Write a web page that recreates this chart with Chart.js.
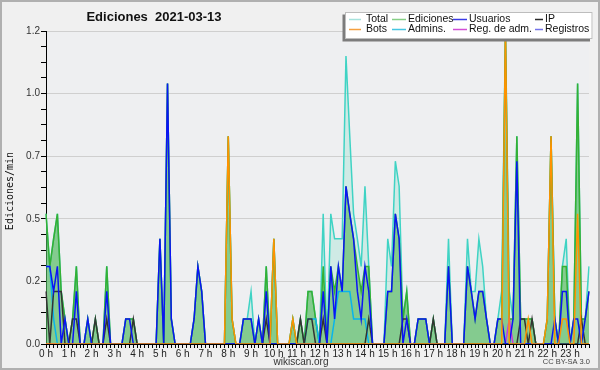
<!DOCTYPE html>
<html lang="es">
<head>
<meta charset="UTF-8" />
<title>Ediciones 2021-03-13</title>
<style>
  html, body { margin: 0; padding: 0; background: #f0f0f0; }
  canvas { display: block; }
</style>
</head>
<body>
<canvas id="editsChart" width="600" height="370"></canvas>
<script src="https://cdn.jsdelivr.net/npm/chart.js@4.4.0/dist/chart.umd.min.js"></script>
<script>
  // one value per 10 minute bin, 00:00 .. 23:50, in actions per minute
  const totalValues = [
    0.52,0.31,0.42,0.52,0.21,0.1,  0,0.1,0.31,0,0,0.1,  0,0.1,0,0,0.31,0,  0,0,0,0.1,0.1,0.1,
    0,0,0,0,0,0,  0.42,0,1.04,0.1,0,0,  0,0,0,0.1,0.31,0.21,  0,0,0,0,0,0,
    0.83,0.1,0,0,0.1,0.1,  0.21,0,0.1,0,0.31,0,  0.42,0,0,0,0,0.1,  0,0.1,0,0.21,0.21,0.1,
    0,0.52,0,0.52,0.42,0.42,  0.42,1.15,0.83,0.52,0.42,0.31,  0.63,0.31,0,0,0,0,  0.42,0.31,0.73,0.63,0.1,0.21,
    0,0,0.1,0.1,0.1,0,  0.1,0,0,0,0.42,0,  0,0,0,0.42,0.21,0.21,  0.42,0.31,0.1,0,0,0.1,
    0.21,1.25,0.21,0.1,0.83,0.1,  0.1,0.1,0.1,0,0,0,  0.1,0.83,0.1,0,0.31,0.42,  0,0.1,1.04,0.1,0.1,0.31
  ];
  const editValues = [
    0.52,0.31,0.42,0.52,0.21,0.1,  0,0.1,0.31,0,0,0.1,  0,0.1,0,0,0.31,0,  0,0,0,0.1,0.1,0.1,
    0,0,0,0,0,0,  0.42,0,1.04,0.1,0,0,  0,0,0,0.1,0.31,0.21,  0,0,0,0,0,0,
    0.83,0.1,0,0,0.1,0.1,  0.1,0,0.1,0,0.31,0,  0.42,0,0,0,0,0.1,  0,0.1,0,0.21,0.21,0.1,
    0,0.31,0,0.31,0.21,0.31,  0.21,0.63,0.52,0.42,0.31,0.21,  0.31,0.31,0,0,0,0,  0.21,0.21,0.52,0.42,0.1,0.21,
    0,0,0.1,0.1,0.1,0,  0.1,0,0,0,0.31,0,  0,0,0,0.31,0.21,0.1,  0.21,0.21,0.1,0,0,0.1,
    0.1,1.25,0.1,0.1,0.83,0.1,  0.1,0.1,0.1,0,0,0,  0.1,0.83,0.1,0,0.31,0.31,  0,0.1,1.04,0.1,0.1,0.21
  ];
  const userValues = [
    0.31,0.31,0.21,0.31,0,0.1,  0,0,0.21,0,0,0.1,  0,0,0,0,0.21,0,  0,0,0,0.1,0.1,0,
    0,0,0,0,0,0,  0.42,0,1.04,0.1,0,0,  0,0,0,0.1,0.31,0.21,  0,0,0,0,0,0,
    0,0,0,0,0.1,0.1,  0.1,0,0.1,0,0.21,0,  0,0,0,0,0,0,  0,0,0,0,0,0,
    0,0.21,0,0.31,0.1,0.31,  0.21,0.63,0.52,0.42,0.21,0.1,  0.31,0.21,0,0,0,0,  0.21,0.21,0.52,0.42,0,0.1,
    0,0,0.1,0.1,0.1,0,  0,0,0,0,0.31,0,  0,0,0,0.31,0.21,0.1,  0.21,0.21,0.1,0,0,0.1,
    0.1,0,0,0.1,0.73,0,  0,0,0,0,0,0,  0,0,0.1,0,0.21,0.21,  0,0.1,0.1,0,0.1,0.21
  ];
  const ipValues = [
    0.21,0,0.21,0.21,0.21,0,  0,0.1,0.1,0,0,0,  0,0.1,0,0,0.1,0,  0,0,0,0,0,0.1,
    0,0,0,0,0,0,  0,0,0,0,0,0,  0,0,0,0,0,0,  0,0,0,0,0,0,
    0,0,0,0,0,0,  0,0,0,0,0.1,0,  0,0,0,0,0,0,  0,0.1,0,0.1,0.1,0,
    0,0.1,0,0,0,0,  0,0,0,0,0,0,  0,0.1,0,0,0,0,  0,0,0,0,0.1,0.1,
    0,0,0,0,0,0,  0.1,0,0,0,0,0,  0,0,0,0,0,0,  0,0,0,0,0,0,
    0,0,0,0,0,0.1,  0.1,0,0.1,0,0,0,  0,0,0,0,0,0,  0,0,0,0.1,0,0
  ];
  const botValues = [
    0,0,0,0,0,0,  0,0,0,0,0,0,  0,0,0,0,0,0,  0,0,0,0,0,0,
    0,0,0,0,0,0,  0,0,0,0,0,0,  0,0,0,0,0,0,  0,0,0,0,0,0,
    0.83,0.1,0,0,0,0,  0,0,0,0,0,0,  0.42,0,0,0,0,0.1,  0,0,0,0,0,0,
    0,0,0,0,0,0,  0,0,0,0,0,0,  0,0,0,0,0,0,  0,0,0,0,0,0,
    0,0,0,0,0,0,  0,0,0,0,0,0,  0,0,0,0,0,0,  0,0,0,0,0,0,
    0,1.25,0,0,0,0,  0,0.1,0,0,0,0,  0.1,0.83,0,0,0.1,0.1,  0,0,0.52,0,0,0
  ];
  const adminValues = [
    0.31,0.31,0.1,0,0,0,  0,0,0,0,0,0,  0,0,0,0,0,0,  0,0,0,0,0,0,
    0,0,0,0,0,0,  0,0,0,0,0,0,  0,0,0,0,0,0,  0,0,0,0,0,0,
    0,0,0,0,0,0,  0,0,0,0,0,0,  0,0,0,0,0,0,  0,0,0,0.1,0.1,0.1,
    0,0,0,0,0.1,0.21,  0.21,0.21,0.21,0.1,0.1,0.1,  0.1,0,0,0,0,0,  0,0,0,0,0,0,
    0,0,0,0,0,0,  0,0,0,0,0,0,  0,0,0,0,0,0,  0,0,0,0,0,0,
    0,0,0,0,0,0,  0,0,0,0,0,0,  0,0,0,0,0,0,  0,0,0,0,0,0
  ];
  const adminLogValues = [
    0,0,0,0,0,0,  0,0,0,0,0,0,  0,0,0,0,0,0,  0,0,0,0,0,0,
    0,0,0,0,0,0,  0,0,0,0,0,0,  0,0,0,0,0,0,  0,0,0,0,0,0,
    0,0,0,0,0,0,  0,0,0,0,0,0,  0,0,0,0,0,0,  0,0,0,0,0,0,
    0,0,0,0,0,0,  0,0,0,0,0,0,  0,0,0,0,0,0,  0,0,0,0,0,0,
    0,0,0,0,0,0,  0,0,0,0,0,0,  0,0,0,0,0,0,  0,0,0,0,0,0,
    0,0,0.1,0,0,0,  0,0,0,0,0,0,  0,0,0,0,0,0,  0,0,0,0,0,0
  ];

  const legendNames = ['Total', 'Ediciones', 'Usuarios', 'IP', 'Bots', 'Admins.', 'Reg. de adm.', 'Registros'];
  const legendColors = ['#a6e2dc', '#86cf86', '#3a3ae6', '#2a2a2a', '#f5a040', '#46c6e2', '#d24ed6', '#7474ea'];

  // bin labels 00:00 .. 23:50
  const binLabels = [];
  for (let h = 0; h < 24; h++) {
    for (let m = 0; m < 60; m += 10) {
      binLabels.push(String(h).padStart(2, '0') + ':' + String(m).padStart(2, '0'));
    }
  }

  const FONT = "'Liberation Sans', Arial, sans-serif";

  // background, frame, title, legend and footer texts
  const decor = {
    id: 'decor',
    beforeDraw(chart) {
      const { ctx, chartArea: a } = chart;
      ctx.save();
      ctx.fillStyle = '#f0f0f0';
      ctx.fillRect(0, 0, chart.width, chart.height);
      ctx.fillStyle = '#eeeff1';
      ctx.fillRect(a.left, a.top, a.right - a.left, a.bottom - a.top);
      ctx.restore();
    },
    afterDraw(chart) {
      const ctx = chart.ctx;
      ctx.save();
      // outer frame
      ctx.strokeStyle = '#b0b0b0';
      ctx.lineWidth = 2;
      ctx.strokeRect(1, 1, chart.width - 2, chart.height - 2);

      // title
      ctx.fillStyle = '#111';
      ctx.font = 'bold 13px ' + FONT;
      ctx.textAlign = 'center';
      ctx.textBaseline = 'middle';
      ctx.fillText('Ediciones  2021-03-13', 154, 17);

      // y title
      ctx.save();
      ctx.translate(10, 191);
      ctx.rotate(-Math.PI / 2);
      ctx.font = "10px 'DejaVu Sans Mono', monospace";
      ctx.fillStyle = '#111';
      ctx.fillText('Ediciones/min', 0, 0);
      ctx.restore();

      // legend box with shadow
      ctx.fillStyle = '#7c7c7c';
      ctx.fillRect(342.5, 14.5, 247.5, 27);
      ctx.fillStyle = '#ffffff';
      ctx.fillRect(345, 12, 247.5, 27);
      ctx.strokeStyle = '#bdbdbd';
      ctx.lineWidth = 1;
      ctx.strokeRect(345.5, 12.5, 246.5, 26);
      const cols = [[349, 361, 366], [392, 406, 408], [453, 467, 469], [535, 543, 545]];
      const rows = [19.5, 29.5];
      ctx.font = '10.5px ' + FONT;
      ctx.textAlign = 'left';
      legendNames.forEach((name, i) => {
        const c = cols[i % 4];
        const y = rows[Math.floor(i / 4)];
        ctx.strokeStyle = legendColors[i];
        ctx.lineWidth = 1.5;
        ctx.beginPath();
        ctx.moveTo(c[0], y);
        ctx.lineTo(c[1], y);
        ctx.stroke();
        ctx.fillStyle = '#111';
        ctx.fillText(name, c[2], y);
      });

      // footer
      ctx.font = '10px ' + FONT;
      ctx.fillStyle = '#333';
      ctx.textAlign = 'center';
      ctx.fillText('wikiscan.org', 301, 362);
      ctx.font = '7.5px ' + FONT;
      ctx.textAlign = 'right';
      ctx.fillStyle = '#444';
      ctx.fillText('CC BY-SA 3.0', 590, 362);
      ctx.restore();
    }
  };

  function series(label, data, color, order, fillColor) {
    return {
      label,
      data,
      borderColor: color,
      borderWidth: 1.5,
      backgroundColor: fillColor || color,
      fill: fillColor ? 'origin' : false,
      pointRadius: 0,
      tension: 0,
      order
    };
  }

  const isMajor = v => Math.abs(v / 0.25 - Math.round(v / 0.25)) < 1e-6;

  new Chart(document.getElementById('editsChart'), {
    type: 'line',
    data: {
      labels: binLabels,
      datasets: [
        series('Total', totalValues, '#3fd3c4', 10, 'rgba(150,225,205,0.35)'),
        series('Ediciones', editValues, '#34b034', 9, 'rgba(50,170,50,0.48)'),
        series('Reg. de adm.', adminLogValues, '#cc33dd', 8),
        series('Admins.', adminValues, '#08b4ec', 7),
        series('IP', ipValues, '#333333', 6),
        series('Usuarios', userValues, '#0a14f5', 5),
        series('Bots', botValues, '#ff9200', 4)
      ]
    },
    options: {
      responsive: false,
      animation: false,
      devicePixelRatio: 1,
      layout: { padding: { top: 31, right: 11, left: 0, bottom: 0 } },
      plugins: {
        legend: { display: false },
        tooltip: { enabled: false }
      },
      scales: {
        x: {
          type: 'category',
          offset: false,
          z: 1,
          afterFit: s => { s.height = 26; },
          grid: { drawOnChartArea: false, tickColor: '#000', tickLength: 4, offset: false },
          border: { color: '#000', width: 1 },
          ticks: {
            autoSkip: false,
            maxRotation: 0,
            minRotation: 0,
            padding: 0,
            color: '#222',
            font: { family: FONT, size: 10 },
            callback: (v, i) => (i % 6 === 0 ? (i / 6) + ' h' : '')
          }
        },
        y: {
          min: 0,
          max: 1.25,
          afterFit: s => { s.width = 46; },
          grid: {
            color: c => (c.tick && isMajor(c.tick.value) && c.tick.value > 0 ? '#cfcfcf' : 'rgba(0,0,0,0)'),
            tickColor: '#000',
            tickLength: 5
          },
          border: { color: '#000', width: 1 },
          ticks: {
            stepSize: 0.0625,
            maxTicksLimit: 1000,
            autoSkip: false,
            padding: 1,
            color: '#333',
            font: { family: FONT, size: 10 },
            callback: v => (isMajor(v) ? (Math.floor(v * 10 + 1e-6) / 10).toFixed(1) : '')
          }
        }
      }
    },
    plugins: [decor]
  });
</script>
</body>
</html>
